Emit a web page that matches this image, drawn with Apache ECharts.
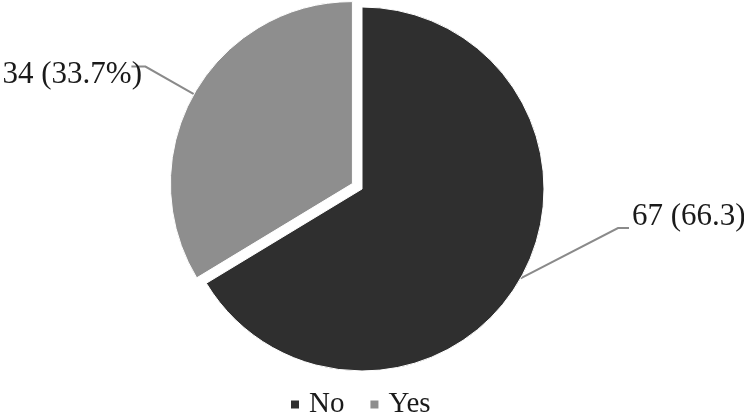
<!DOCTYPE html>
<html>
<head>
<meta charset="utf-8">
<script src="https://cdn.jsdelivr.net/npm/echarts@6/dist/echarts.min.js"></script>
<style>
html,body{margin:0;padding:0;background:#fff;}
#chart{width:744px;height:417px;}
</style>
</head>
<body>
<div id="chart"></div>
<script>
var categories = ['No', 'Yes'];
var counts = [67, 34];
var labelTexts = ['67 (66.3)', '34 (33.7%)'];
var colors = ['#2f2f2f', '#8e8e8e'];

var chart = echarts.init(document.getElementById('chart'), null, {renderer: 'canvas'});
var data = categories.map(function (c, i) {
  return {
    name: c,
    value: counts[i],
    selected: i === 1,
    itemStyle: {color: colors[i]},
    label: {formatter: labelTexts[i]}
  };
});

// label anchor layout (position styling only)
var labelPos = [
  {x: 632, y: 217, align: 'left', bend: [618, 228], end: [629, 228]},
  {x: 137, y: 61, align: 'right', bend: [155, 72], end: [141, 72]}
];

chart.setOption({
  animation: false,
  backgroundColor: '#ffffff',
  legend: {
    top: 390,
    left: 289,
    padding: 0,
    icon: 'rect',
    itemWidth: 10,
    itemHeight: 10,
    itemGap: 24,
    data: categories,
    textStyle: {fontFamily: 'Liberation Serif', fontSize: 29, color: '#1a1a1a', padding: [0, 0, 0, 4]}
  },
  series: [{
    type: 'pie',
    center: [362, 189],
    radius: 182,
    startAngle: 90,
    clockwise: true,
    selectedMode: 'single',
    selectedOffset: 11,
    itemStyle: {borderColor: '#ffffff', borderWidth: 1},
    label: {
      show: true,
      position: 'outside',
      fontFamily: 'Liberation Serif',
      fontSize: 31,
      color: '#1a1a1a'
    },
    labelLine: {
      show: true,
      length: 40,
      length2: 12,
      lineStyle: {color: '#8a8a8a', width: 2}
    },
    labelLayout: function (params) {
      var p = labelPos[params.dataIndex];
      var start = params.labelLinePoints ? params.labelLinePoints[0] : p.bend;
      return {
        x: p.x,
        y: p.y,
        align: p.align,
        verticalAlign: 'middle',
        labelLinePoints: [start, p.bend, p.end]
      };
    },
    emphasis: {disabled: true},
    data: data
  }]
});
</script>
</body>
</html>
